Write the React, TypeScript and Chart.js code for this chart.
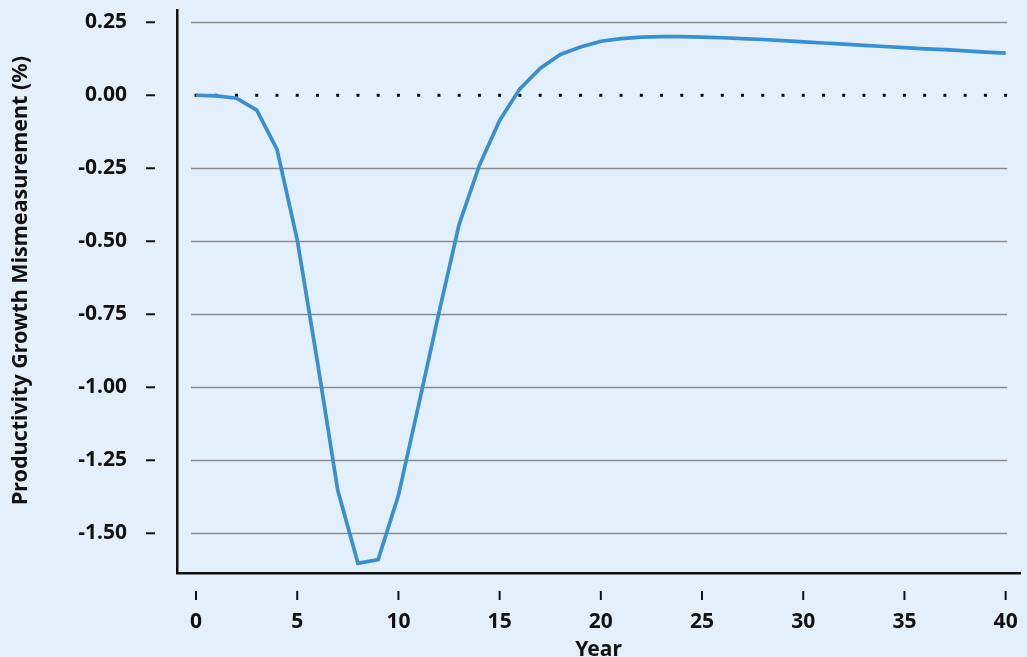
import React, { useEffect, useRef } from "react";
import { Chart, registerables } from "chart.js";

Chart.register(...registerables);

// ---- Data ----
const years: number[] = [
  0, 1, 2, 3, 4, 5, 6, 7, 8, 9, 10, 11, 12, 13, 14, 15, 16, 17, 18, 19, 20,
  21, 22, 23, 24, 25, 26, 27, 28, 29, 30, 31, 32, 33, 34, 35, 36, 37, 38, 39, 40,
];
const mismeasurement: number[] = [
  0.0, -0.002, -0.01, -0.051, -0.185, -0.495, -0.914, -1.352, -1.603, -1.59,
  -1.37, -1.06, -0.745, -0.442, -0.24, -0.086, 0.022, 0.092, 0.14, 0.165,
  0.185, 0.194, 0.199, 0.201, 0.201, 0.199, 0.197, 0.194, 0.191, 0.187,
  0.183, 0.179, 0.175, 0.171, 0.167, 0.163, 0.159, 0.156, 0.152, 0.148, 0.144,
];
const zeroLineYears: number[] = years;
const xTickValues: number[] = [0, 5, 10, 15, 20, 25, 30, 35, 40];
const yTickValues: number[] = [0.25, 0, -0.25, -0.5, -0.75, -1.0, -1.25, -1.5];
const gridValues: number[] = [0.25, -0.25, -0.5, -0.75, -1.0, -1.25, -1.5];
const yAxisTitle = "Productivity Growth Mismeasurement (%)";
const xAxisTitle = "Year";

const FONT = '"Noto Sans", "DejaVu Sans", sans-serif';
const BG = "#e3f0fc";
const LINE = "#3b8fcc";

const customPlugin = {
  id: "customDecor",
  beforeDatasetsDraw(chart: any) {
    const { ctx, scales } = chart;
    const xs = scales.x;
    const ys = scales.y;
    ctx.save();
    ctx.strokeStyle = "#8c8c8c";
    ctx.lineWidth = 1.3;
    const x0 = xs.getPixelForValue(-0.25);
    const x1 = xs.getPixelForValue(40.08);
    gridValues.forEach((v) => {
      const y = Math.round(ys.getPixelForValue(v)) + 0.5;
      ctx.beginPath();
      ctx.moveTo(x0, y);
      ctx.lineTo(x1, y);
      ctx.stroke();
    });
    ctx.restore();
  },
  afterDraw(chart: any) {
    const { ctx, scales, chartArea } = chart;
    const xs = scales.x;
    const ys = scales.y;
    ctx.save();
    ctx.strokeStyle = "#111";
    ctx.lineWidth = 2;
    yTickValues.forEach((v) => {
      const y = ys.getPixelForValue(v);
      ctx.beginPath();
      ctx.moveTo(chartArea.left - 31, y);
      ctx.lineTo(chartArea.left - 22, y);
      ctx.stroke();
    });
    xTickValues.forEach((v) => {
      const x = xs.getPixelForValue(v);
      ctx.beginPath();
      ctx.moveTo(x, chartArea.bottom + 18);
      ctx.lineTo(x, chartArea.bottom + 27);
      ctx.stroke();
    });
    ctx.fillStyle = "#111";
    ctx.font = `bold 21.5px ${FONT}`;
    ctx.textAlign = "center";
    ctx.textBaseline = "middle";
    ctx.translate(21, (chartArea.top + chartArea.bottom) / 2 - 11);
    ctx.rotate(-Math.PI / 2);
    ctx.fillText(yAxisTitle, 0, 0);
    ctx.restore();
  },
};

export default function App() {
  const canvasRef = useRef<HTMLCanvasElement | null>(null);

  useEffect(() => {
    const canvas = canvasRef.current;
    if (!canvas) return;
    const zeroPad = (s: any) => {
      s.paddingTop = 0;
      s.paddingBottom = 0;
      s.paddingLeft = 0;
      s.paddingRight = 0;
    };
    const chart = new Chart(canvas, {
      type: "line",
      data: {
        datasets: [
          {
            label: "zero",
            data: zeroLineYears.map((x) => ({ x, y: 0 })),
            showLine: false,
            pointStyle: "rect",
            pointRadius: 2.1,
            pointBorderWidth: 0,
            pointBackgroundColor: "#000",
            pointHoverRadius: 2.1,
            order: 2,
          },
          {
            label: "mismeasurement",
            data: years.map((x, i) => ({ x, y: mismeasurement[i] })),
            borderColor: LINE,
            borderWidth: 3.7,
            pointRadius: 0,
            pointHoverRadius: 0,
            tension: 0,
            fill: false,
            order: 1,
          },
        ],
      },
      options: {
        responsive: false,
        animation: false,
        devicePixelRatio: 1,
        layout: { padding: { left: 0, right: 7, top: 10, bottom: 0 } },
        plugins: {
          legend: { display: false },
          tooltip: { enabled: false },
        },
        scales: {
          x: {
            type: "linear",
            min: -0.94,
            max: 40.71,
            grid: { display: false, drawTicks: false },
            border: { display: true, color: "#111", width: 2.5 },
            afterBuildTicks: (s: any) => {
              s.ticks = xTickValues.map((v) => ({ value: v }));
            },
            afterFit: (s: any) => {
              s.height = 84;
              zeroPad(s);
            },
            ticks: {
              autoSkip: false,
              maxRotation: 0,
              padding: 36,
              color: "#111",
              font: { family: FONT, size: 21, weight: "bold" },
              callback: (v: any) => String(v),
            },
            title: {
              display: true,
              text: xAxisTitle,
              color: "#111",
              font: { family: FONT, size: 21, weight: "bold" },
              padding: { top: 0, bottom: -6 },
            },
          },
          y: {
            type: "linear",
            min: -1.636,
            max: 0.292,
            grid: { display: false, drawTicks: false },
            border: { display: true, color: "#111", width: 2.5 },
            afterBuildTicks: (s: any) => {
              s.ticks = yTickValues.map((v) => ({ value: v }));
            },
            afterFit: (s: any) => {
              s.width = 177;
              zeroPad(s);
            },
            ticks: {
              autoSkip: false,
              padding: 50,
              color: "#111",
              font: { family: FONT, size: 21, weight: "bold" },
              callback: (v: any) => Number(v).toFixed(2),
            },
          },
        },
      },
      plugins: [customPlugin],
    });
    return () => chart.destroy();
  }, []);

  return (
    <div
      style={{
        position: "absolute",
        left: 0,
        top: 0,
        width: 1027,
        height: 657,
        background: BG,
        overflow: "hidden",
      }}
    >
      <canvas ref={canvasRef} width={1027} height={657} style={{ display: "block" }} />
    </div>
  );
}
